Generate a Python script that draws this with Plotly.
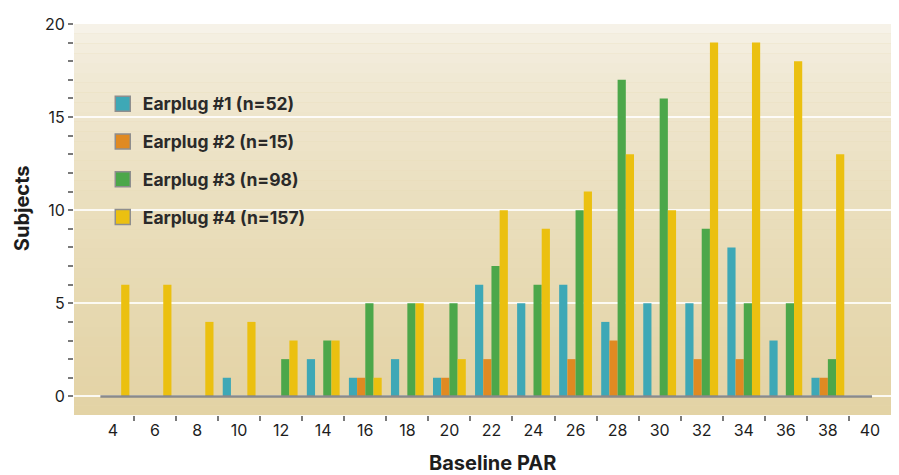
import plotly.graph_objects as go

# ---- data ----
baseline_par = [4, 6, 8, 10, 12, 14, 16, 18, 20, 22, 24, 26, 28, 30, 32, 34, 36, 38]
earplug1 = [None, None, None, 1, None, 2, 1, 2, 1, 6, 5, 6, 4, 5, 5, 8, 3, 1]
earplug2 = [None, None, None, None, None, None, 1, None, 1, 2, None, 2, 3, None, 2, 2, None, 1]
earplug3 = [None, None, None, None, 2, 3, 5, 5, 5, 7, 6, 10, 17, 16, 9, 5, 5, 2]
earplug4 = [6, 6, 4, 4, 3, 3, 1, 5, 2, 10, 9, 11, 13, 10, 19, 19, 18, 13]
series_names = ["Earplug #1 (n=52)", "Earplug #2 (n=15)", "Earplug #3 (n=98)", "Earplug #4 (n=157)"]
x_tick_labels = [4, 6, 8, 10, 12, 14, 16, 18, 20, 22, 24, 26, 28, 30, 32, 34, 36, 38, 40]
y_tick_labels = [0, 5, 10, 15, 20]
x_title = "Baseline PAR"
y_title = "Subjects"

colors = ["#3ea8b6", "#e08a22", "#4ca74a", "#ebc010"]
series = [earplug1, earplug2, earplug3, earplug4]

FONT = "Inter, Roboto, sans-serif"
TXT = "#1d1d1d"

fig = go.Figure()
for name, vals, col in zip(series_names, series, colors):
    fig.add_trace(go.Bar(x=baseline_par, y=vals, name=name, marker=dict(color=col, line=dict(width=0)),
                         showlegend=False))
for i, (name, col) in enumerate(zip(series_names, colors)):
    fig.add_trace(go.Scatter(x=[None], y=[None], mode="markers", name=name, legendgroup=f"g{i}",
                             marker=dict(symbol="square", size=15, color=col,
                                         line=dict(color="#8e8e8e", width=1.5))))

# gradient background stripes
def lerp(a, b, t):
    return int(round(a + (b - a) * t))
top = (246, 242, 232)
bot = (227, 211, 165)
n = 40
shapes = []
for k in range(n):
    t = k / (n - 1)
    c = tuple(lerp(top[j], bot[j], t ** 0.6) for j in range(3))
    shapes.append(dict(type="rect", xref="paper", yref="paper", x0=0, x1=1,
                       y0=1 - (k + 1) / n, y1=1 - k / n, layer="below",
                       fillcolor=f"rgb{c}", line=dict(width=0)))
shapes.append(dict(type="line", xref="x", yref="y", x0=3.4, x1=40.1, y0=0, y1=0,
                   line=dict(color="#8a8a8a", width=2.5), layer="above"))

annotations = [
    dict(text=x_title, xref="paper", yref="paper", x=0.509, y=-0.122, xanchor="center", yanchor="middle",
         showarrow=False, font=dict(family=FONT, size=20, weight="bold", color=TXT)),
    dict(text=y_title, xref="paper", yref="paper", x=-0.0633, y=0.529, xanchor="center", yanchor="middle",
         textangle=-90, showarrow=False, font=dict(family=FONT, size=20, weight="bold", color=TXT)),
]

fig.update_layout(
    width=899, height=475,
    margin=dict(l=66, r=11, t=15.5, b=67.7),
    paper_bgcolor="white",
    plot_bgcolor="#e6d8b0",
    barmode="group", bargap=0.22, bargroupgap=0,
    shapes=shapes,
    annotations=annotations,
    font=dict(family=FONT, color=TXT, size=15),
    legend=dict(x=0.035, y=0.842, xanchor="left", yanchor="top", bgcolor="rgba(0,0,0,0)",
                font=dict(family=FONT, size=17.5, color="#2a2a2a", weight="bold"),
                tracegroupgap=12, traceorder="grouped"),
    xaxis=dict(range=[2.146, 41.24], tickvals=x_tick_labels, ticktext=[str(v) for v in x_tick_labels],
               ticks="", showgrid=False, zeroline=False, showline=False, automargin=False,
               tickfont=dict(size=16, color=TXT), ticklabelstandoff=4,
               minor=dict(tickvals=list(range(5, 40, 2)), ticks="outside", ticklen=5,
                          tickcolor="#7a7a7a", tickwidth=2, showgrid=False)),
    yaxis=dict(range=[-1, 20], tickvals=y_tick_labels, ticks="outside", ticklen=5, tickwidth=2,
               tickcolor="#7a7a7a", showgrid=True, gridcolor="rgba(255,255,255,0.85)", gridwidth=2,
               zeroline=False, showline=False, automargin=False, tickfont=dict(size=16, color=TXT),
               minor=dict(tickvals=list(range(1, 20)), ticks="outside", ticklen=5,
                          tickcolor="#7a7a7a", tickwidth=2, showgrid=False)),
)

fig.write_html("out.html")
